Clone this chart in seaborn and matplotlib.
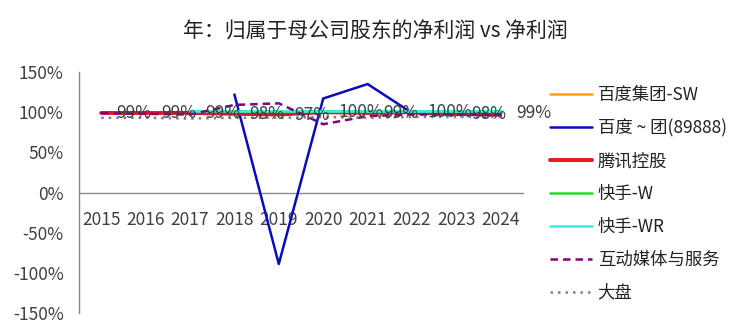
import numpy as np
import pandas as pd
import matplotlib
matplotlib.use("Agg")
import matplotlib.pyplot as plt
import seaborn as sns
from matplotlib.lines import Line2D
from matplotlib.ticker import FixedLocator, FuncFormatter

sns.set_theme(style="white")
plt.rcParams['font.family'] = ['Noto Sans CJK SC', 'DejaVu Sans']
plt.rcParams['axes.unicode_minus'] = False

years = ["2015", "2016", "2017", "2018", "2019", "2020", "2021", "2022", "2023", "2024"]
nan = np.nan
baidu_sw = [nan, nan, nan, nan, nan, nan, nan, 99, 97, 96]
baidu_89888 = [nan, nan, nan, 122, -89, 117, 135, 99, 97, 96]
tencent = [99, 99, 99, 98, 97, 100, 99, 100, 98, 99]
kuaishou_w = [nan, nan, 101, 101, 101, 101, 101, 101, 101, 101]
kuaishou_wr = [nan, nan, 101, 101, 101, 101, 101, 101, 101, 101]
media = [99, 98, 97, 109, 111, 85, 95, 97, 97, 97]
market = [93, 93, 92, 93, 93, 94, 93, 94, 94, 94]
tencent_labels = ["99%", "99%", "99%", "98%", "97%", "100%", "99%", "100%", "98%", "99%"]

series = [
    ("百度集团-SW", baidu_sw, "#FFA500", "-", 1.8),
    ("百度 ~ 团(89888)", baidu_89888, "#0A0ABE", "-", 1.8),
    ("腾讯控股", tencent, "#E8141E", "-", 2.8),
    ("快手-W", kuaishou_w, "#22DD22", "-", 1.8),
    ("快手-WR", kuaishou_wr, "#33EEEE", "-", 1.8),
    ("互动媒体与服务", media, "#800080", (0, (3, 2)), 1.8),
    ("大盘", market, "#808080", (0, (1, 2)), 1.8),
]

fig = plt.figure(figsize=(7.5, 3.33), dpi=100)
ax = fig.add_axes([79 / 750, 1 - 313 / 333, (523 - 79) / 750, (313 - 72) / 333])

xpos = np.arange(len(years))
draw_order = [0, 1, 3, 4, 2, 5, 6]
for i in draw_order:
    name, vals, col, ls, lw = series[i]
    df = pd.DataFrame({"x": xpos, "y": vals}).dropna()
    sns.lineplot(data=df, x="x", y="y", ax=ax, color=col, linewidth=lw,
                 linestyle=ls, legend=False, zorder=3 + i)

for xi, v, lab in zip(xpos, tencent, tencent_labels):
    ax.annotate(lab, (xi, v), xytext=(11, 0), textcoords="offset points",
                ha="left", va="center", fontsize=12.5, color="#404040", zorder=20)

ax.set_xlim(-0.5, 9.5)
ax.set_ylim(-150, 150)
ax.set_yticks([-150, -100, -50, 0, 50, 100, 150])
ax.yaxis.set_major_formatter(FuncFormatter(lambda v, p: f"{int(v)}%"))
ax.set_xticks(xpos)
ax.set_xticklabels(years)
ax.xaxis.set_minor_locator(FixedLocator(np.arange(-0.5, 10, 1)))
ax.tick_params(axis="x", which="major", length=0, pad=13, labelsize=12.5, colors="#404040")
ax.tick_params(axis="x", which="minor", length=5, width=1, color="#888888", direction="out")
ax.tick_params(axis="y", which="major", length=5, width=1, color="#888888", direction="out",
               labelsize=12.5, labelcolor="#404040", pad=6)
ax.set_xlabel("")
ax.set_ylabel("")
for s in ["top", "right"]:
    ax.spines[s].set_visible(False)
ax.spines["bottom"].set_position(("data", 0))
for s in ["left", "bottom"]:
    ax.spines[s].set_color("#888888")
    ax.spines[s].set_linewidth(1)
ax.grid(False)

fig.text(375 / 750, 1 - 32 / 333, "年：归属于母公司股东的净利润 vs 净利润",
         ha="center", va="center", fontsize=15, color="#222222")

handles = [Line2D([0], [0], color=c, linestyle=ls, linewidth=lw) for _, _, c, ls, lw in series]
labels = [n for n, _, _, _, _ in series]
leg = fig.legend(handles, labels, loc="upper left", bbox_to_anchor=(543 / 750, 1 - 79 / 333),
                 frameon=False, fontsize=12.5, handlelength=2.4, handletextpad=0.35,
                 labelspacing=0.86, borderaxespad=0)
for t in leg.get_texts():
    t.set_color("#222222")

fig.savefig("out.png", dpi=100)
